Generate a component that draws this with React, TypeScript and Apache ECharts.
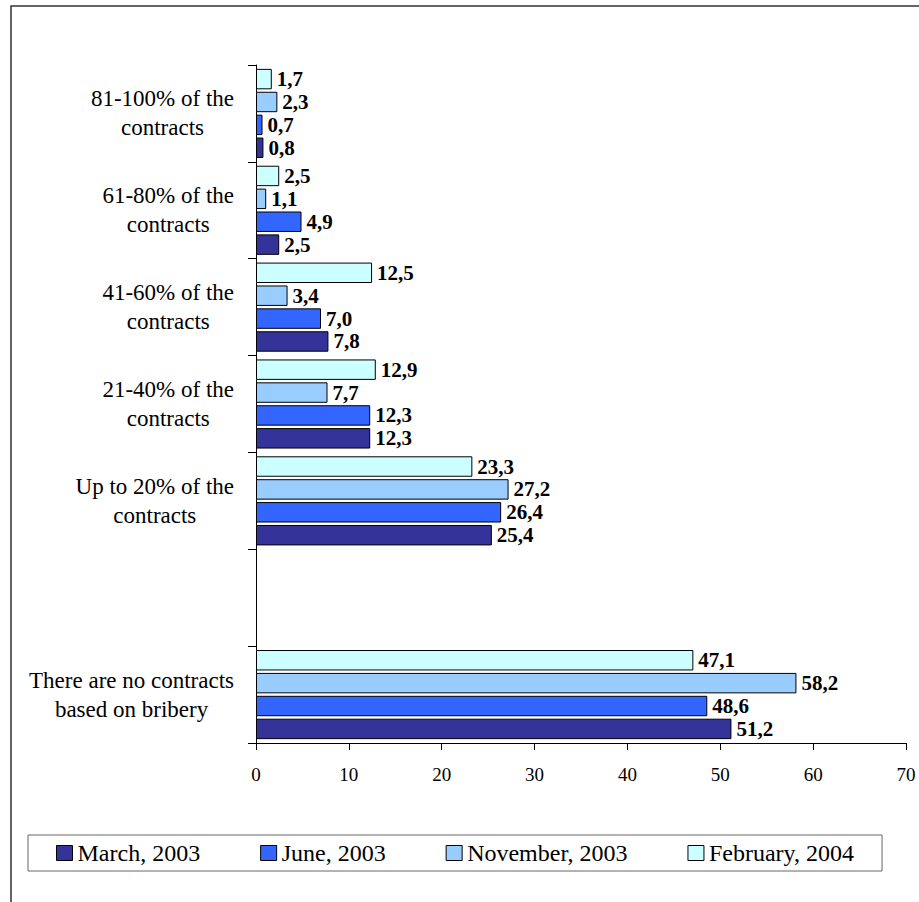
import { useEffect, useRef } from 'react';
import * as echarts from 'echarts';

// Share of contracts concluded with the help of bribes (%), bottom to top
const categories: string[] = [
  'There are no contracts\nbased on bribery',
  '',
  'Up to 20% of the\ncontracts',
  '21-40% of the\ncontracts',
  '41-60% of the\ncontracts',
  '61-80% of the\ncontracts',
  '81-100% of the\ncontracts',
];

const seriesNames: string[] = ['March, 2003', 'June, 2003', 'November, 2003', 'February, 2004'];

const march2003: (number | null)[] = [51.2, null, 25.4, 12.3, 7.8, 2.5, 0.8];
const june2003: (number | null)[] = [48.6, null, 26.4, 12.3, 7.0, 4.9, 0.7];
const november2003: (number | null)[] = [58.2, null, 27.2, 7.7, 3.4, 1.1, 2.3];
const february2004: (number | null)[] = [47.1, null, 23.3, 12.9, 12.5, 2.5, 1.7];

const xTicks = { min: 0, max: 70, interval: 10 };

const seriesColors = ['#333399', '#3366FF', '#99CCFF', '#CCFFFF'];
const FONT = "'Liberation Serif', serif";

export default function App() {
  const ref = useRef<HTMLDivElement>(null);

  useEffect(() => {
    const chart = echarts.init(ref.current!, null, { renderer: 'svg' });
    const allData = [march2003, june2003, november2003, february2004];

    // horizontal bars stack the first series on top, so feed them latest-first
    const order = [3, 2, 1, 0];

    chart.setOption({
      animation: false,
      backgroundColor: '#ffffff',
      textStyle: { fontFamily: FONT, color: '#000' },
      graphic: [
        {
          type: 'rect',
          shape: { x: 11, y: 6, width: 930, height: 920 },
          style: { fill: 'none', stroke: '#333', lineWidth: 1.5 },
          silent: true,
        },
      ],
      grid: { left: 256, right: 13, top: 65, bottom: 159, containLabel: false },
      xAxis: {
        type: 'value',
        min: xTicks.min,
        max: xTicks.max,
        interval: xTicks.interval,
        axisLine: { show: true, lineStyle: { color: '#000', width: 1 } },
        axisTick: { show: true, length: 7, lineStyle: { color: '#000' } },
        splitLine: { show: false },
        axisLabel: { fontFamily: FONT, fontSize: 19, color: '#000', margin: 22 },
      },
      yAxis: {
        type: 'category',
        data: categories,
        axisLine: { show: true, lineStyle: { color: '#000', width: 1 } },
        axisTick: { show: true, length: 8, lineStyle: { color: '#000' } },
        splitLine: { show: false },
        axisLabel: {
          interval: 0,
          margin: 22,
          formatter: (v: string) =>
            v ? v.split('\n').map((l) => `{c|${l}}`).join('\n') : '',
          rich: {
            c: {
              align: 'center',
              fontFamily: FONT,
              fontSize: 23,
              lineHeight: 29,
              color: '#000',
            },
          },
        },
      },
      legend: {
        data: seriesNames,
        left: 28,
        top: 835,
        orient: 'horizontal',
        icon: 'rect',
        itemWidth: 16,
        itemHeight: 15,
        itemGap: 60,
        padding: [6, 28],
        borderColor: '#666',
        borderWidth: 1,
        itemStyle: { borderColor: '#000', borderWidth: 1 },
        textStyle: { fontFamily: FONT, fontSize: 24, color: '#000' },
      },
      series: order.map((i) => ({
        name: seriesNames[i],
        type: 'bar',
        data: allData[i],
        barCategoryGap: '8%',
        barGap: '12%',
        itemStyle: { color: seriesColors[i], borderColor: '#000', borderWidth: 1 },
        label: {
          show: true,
          position: 'right',
          distance: 5,
          fontFamily: FONT,
          fontSize: 21,
          fontWeight: 'bold',
          color: '#000',
          formatter: (p: any) =>
            p.value == null ? '' : Number(p.value).toFixed(1).replace('.', ','),
        },
      })),
    });

    return () => chart.dispose();
  }, []);

  return (
    <div
      ref={ref}
      style={{ position: 'absolute', left: 0, top: 0, width: 919, height: 902, background: '#fff' }}
    />
  );
}
